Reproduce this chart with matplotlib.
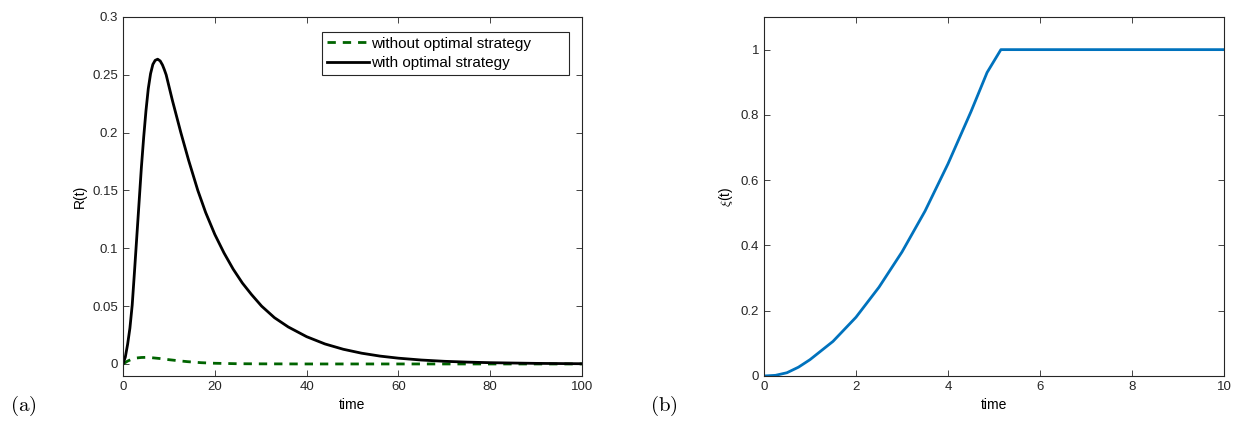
#!/usr/bin/python
"""Optimal strategy: R(t) with/without control and control xi(t)"""

import matplotlib
matplotlib.use("Agg")
import matplotlib.pyplot as plt

plt.rcParams['font.family'] = ['Liberation Sans', 'DejaVu Sans']
plt.rcParams['mathtext.fontset'] = 'cm'

# R(t) with optimal strategy
t_with = [0, 0.5, 1.0, 1.5, 2.0, 2.5, 3.0, 3.5, 4.0, 4.5, 5.0, 5.5, 6.0, 6.5,
          7.0, 7.55, 8.1, 8.6, 9.0, 9.4, 10.75, 12.6, 14.3, 16.3, 18.0, 20.0,
          22.0, 24.0, 26.0, 28.0, 30.2, 33.0, 36.0, 40.0, 44.0, 48.0, 52.0,
          56.0, 60.0, 65.0, 70.0, 75.0, 80.0, 90.0, 100.0]
r_with = [0, 0.006, 0.017, 0.031, 0.051, 0.080, 0.110, 0.140, 0.170, 0.196,
          0.219, 0.238, 0.251, 0.259, 0.2625, 0.2635, 0.262, 0.2585, 0.2545,
          0.250, 0.228, 0.200, 0.176, 0.150, 0.131, 0.112, 0.096, 0.082,
          0.070, 0.060, 0.050, 0.040, 0.032, 0.0236, 0.0173, 0.0127, 0.0093,
          0.0068, 0.005, 0.0034, 0.0023, 0.0016, 0.0011, 0.0005, 0.0002]

# R(t) without optimal strategy
t_without = [0, 1, 2, 3, 4, 5, 6, 8, 10, 12, 14, 17, 20, 25, 30, 40, 100]
r_without = [0, 0.0025, 0.0042, 0.0052, 0.0056, 0.0057, 0.0055, 0.0047,
             0.0037, 0.0028, 0.002, 0.0011, 0.0006, 0.0002, 0.0001, 0.0, 0.0]

# control xi(t)
t_xi = [0, 0.25, 0.5, 0.75, 1.0, 1.5, 2.0, 2.5, 3.0, 3.5, 4.0, 4.5, 4.85,
        5.15, 10.0]
xi = [0, 0.002, 0.010, 0.027, 0.050, 0.106, 0.180, 0.272, 0.380, 0.505,
      0.650, 0.810, 0.930, 1.0, 1.0]

fig = plt.figure(figsize=(12.34, 4.26), dpi=100)
ax1 = fig.add_axes([0.0997, 0.1174, 0.3719, 0.8427])
ax2 = fig.add_axes([0.6191, 0.1174, 0.3728, 0.8427])

ax1.plot(t_without, r_without, '--', color='#006400', lw=2.0,
         dashes=(3, 2.5), label='without optimal strategy')
ax1.plot(t_with, r_with, '-', color='black', lw=2.0,
         solid_joinstyle='round', label='with optimal strategy')
ax1.set_xlim(0, 100)
ax1.set_ylim(-0.0104, 0.3)
ax1.set_xticks([0, 20, 40, 60, 80, 100])
ax1.set_yticks([0, 0.05, 0.1, 0.15, 0.2, 0.25, 0.3])
ax1.set_yticklabels(['0', '0.05', '0.1', '0.15', '0.2', '0.25', '0.3'])
ax1.set_xlabel('time', fontsize=10)
ax1.set_ylabel('R(t)', fontsize=10)
leg = ax1.legend(loc='upper left', bbox_to_anchor=(0.4336, 0.0, 0.5384, 0.958),
                 mode='expand', fontsize=11, fancybox=False, framealpha=1,
                 edgecolor='#262626', handlelength=2.8, handletextpad=0.1,
                 borderpad=0.3, labelspacing=0.35, borderaxespad=0)
leg.get_frame().set_linewidth(0.8)

ax2.plot(t_xi, xi, '-', color='#0072BD', lw=2.0, solid_joinstyle='round')
ax2.set_xlim(0, 10)
ax2.set_ylim(0, 1.1)
ax2.set_xticks([0, 2, 4, 6, 8, 10])
ax2.set_yticks([0, 0.2, 0.4, 0.6, 0.8, 1])
ax2.set_yticklabels(['0', '0.2', '0.4', '0.6', '0.8', '1'])
ax2.set_xlabel('time', fontsize=10)
ax2.set_ylabel(r'$\xi$(t)', fontsize=10)

for ax in (ax1, ax2):
    ax.tick_params(direction='in', top=True, right=True, labelsize=9.5,
                   length=4, width=0.6, colors='#262626')
    for s in ax.spines.values():
        s.set_linewidth(0.8)
        s.set_color('#262626')

fig.text(0.008, 0.035, r'$\mathrm{(a)}$', fontsize=15)
fig.text(0.527, 0.035, r'$\mathrm{(b)}$', fontsize=15)

plt.savefig('out.png', dpi=100)
